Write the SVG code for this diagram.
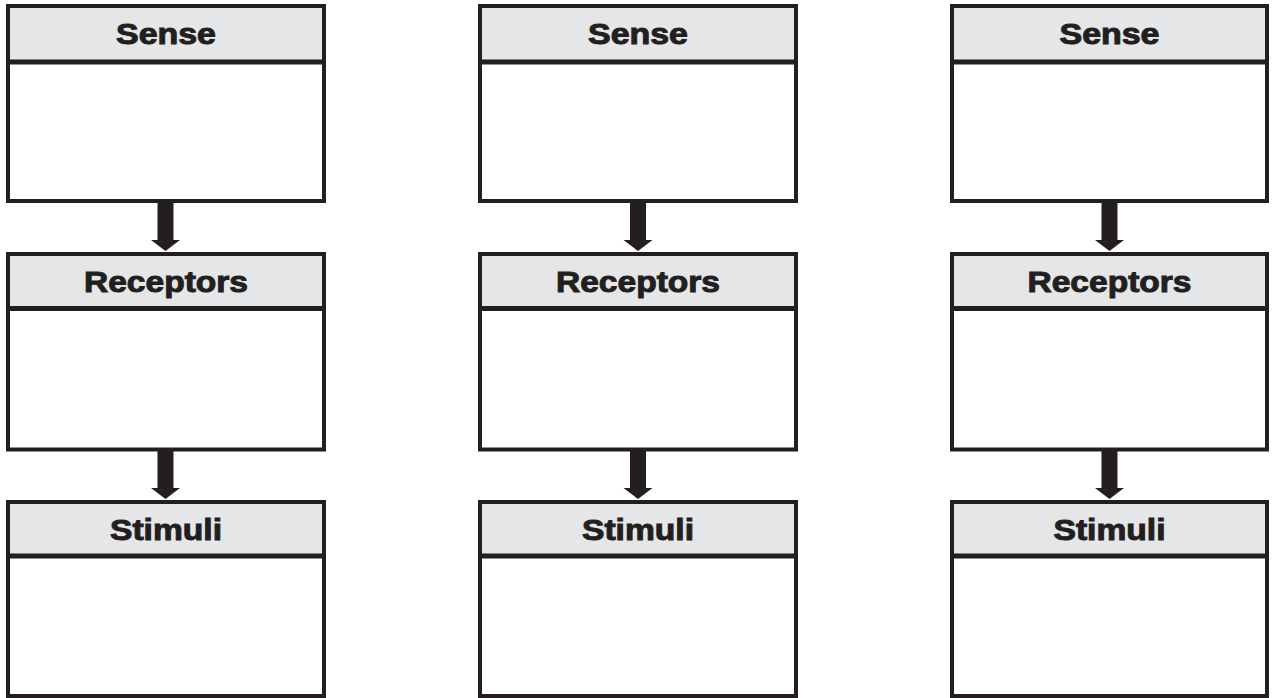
<svg xmlns="http://www.w3.org/2000/svg" width="1272" height="698" viewBox="0 0 1272 698">
  <style>
    .box { fill: #ffffff; stroke: #231f20; stroke-width: 4; }
    .hdr { fill: #e5e6e8; }
    .sep { stroke: #231f20; stroke-width: 5; }
    .lbl { font-family: "Liberation Sans", Arial, sans-serif; font-weight: bold; font-size: 30px; fill: #231f20; stroke: #231f20; stroke-width: 1; text-anchor: middle; }
    .arrow { fill: #231f20; }
  </style>
  <rect width="1272" height="698" fill="#ffffff"/>

  <!-- Column 1 -->
  <g id="sense-1">
    <rect class="box" x="8" y="6" width="316" height="195"/>
    <rect class="hdr" x="10" y="8" width="312" height="52"/>
    <line class="sep" x1="8" y1="62" x2="324" y2="62"/>
    <text class="lbl" x="166" y="44" textLength="100" lengthAdjust="spacingAndGlyphs">Sense</text>
  </g>
  <g id="receptors-1">
    <rect class="box" x="8" y="254" width="316" height="195.5"/>
    <rect class="hdr" x="10" y="256" width="312" height="51"/>
    <line class="sep" x1="8" y1="308.5" x2="324" y2="308.5"/>
    <text class="lbl" x="166" y="291.5" textLength="164" lengthAdjust="spacingAndGlyphs">Receptors</text>
  </g>
  <g id="stimuli-1">
    <rect class="box" x="8" y="502" width="316" height="194"/>
    <rect class="hdr" x="10" y="504" width="312" height="50"/>
    <line class="sep" x1="8" y1="556" x2="324" y2="556"/>
    <text class="lbl" x="166" y="539.5" textLength="112" lengthAdjust="spacingAndGlyphs">Stimuli</text>
  </g>

  <!-- Column 2 -->
  <g id="sense-2">
    <rect class="box" x="480" y="6" width="316" height="195"/>
    <rect class="hdr" x="482" y="8" width="312" height="52"/>
    <line class="sep" x1="480" y1="62" x2="796" y2="62"/>
    <text class="lbl" x="638" y="44" textLength="100" lengthAdjust="spacingAndGlyphs">Sense</text>
  </g>
  <g id="receptors-2">
    <rect class="box" x="480" y="254" width="316" height="195.5"/>
    <rect class="hdr" x="482" y="256" width="312" height="51"/>
    <line class="sep" x1="480" y1="308.5" x2="796" y2="308.5"/>
    <text class="lbl" x="638" y="291.5" textLength="164" lengthAdjust="spacingAndGlyphs">Receptors</text>
  </g>
  <g id="stimuli-2">
    <rect class="box" x="480" y="502" width="316" height="194"/>
    <rect class="hdr" x="482" y="504" width="312" height="50"/>
    <line class="sep" x1="480" y1="556" x2="796" y2="556"/>
    <text class="lbl" x="638" y="539.5" textLength="112" lengthAdjust="spacingAndGlyphs">Stimuli</text>
  </g>

  <!-- Column 3 -->
  <g id="sense-3">
    <rect class="box" x="952" y="6" width="315" height="195"/>
    <rect class="hdr" x="954" y="8" width="311" height="52"/>
    <line class="sep" x1="952" y1="62" x2="1267" y2="62"/>
    <text class="lbl" x="1109.5" y="44" textLength="100" lengthAdjust="spacingAndGlyphs">Sense</text>
  </g>
  <g id="receptors-3">
    <rect class="box" x="952" y="254" width="315" height="195.5"/>
    <rect class="hdr" x="954" y="256" width="311" height="51"/>
    <line class="sep" x1="952" y1="308.5" x2="1267" y2="308.5"/>
    <text class="lbl" x="1109.5" y="291.5" textLength="164" lengthAdjust="spacingAndGlyphs">Receptors</text>
  </g>
  <g id="stimuli-3">
    <rect class="box" x="952" y="502" width="315" height="194"/>
    <rect class="hdr" x="954" y="504" width="311" height="50"/>
    <line class="sep" x1="952" y1="556" x2="1267" y2="556"/>
    <text class="lbl" x="1109.5" y="539.5" textLength="112" lengthAdjust="spacingAndGlyphs">Stimuli</text>
  </g>

  <!-- Connectors -->
  <g id="connectors">
    <polygon class="arrow" points="157.5,203 173.5,203 173.5,240 180,240 165.5,251 151,240 157.5,240"/>
    <polygon class="arrow" points="157.5,451 173.5,451 173.5,488 180,488 165.5,499 151,488 157.5,488"/>
    <polygon class="arrow" points="630,203 646,203 646,240 652.5,240 638,251 623.5,240 630,240"/>
    <polygon class="arrow" points="630,451 646,451 646,488 652.5,488 638,499 623.5,488 630,488"/>
    <polygon class="arrow" points="1101.5,203 1117.5,203 1117.5,240 1124,240 1109.5,251 1095,240 1101.5,240"/>
    <polygon class="arrow" points="1101.5,451 1117.5,451 1117.5,488 1124,488 1109.5,499 1095,488 1101.5,488"/>
  </g>
</svg>
